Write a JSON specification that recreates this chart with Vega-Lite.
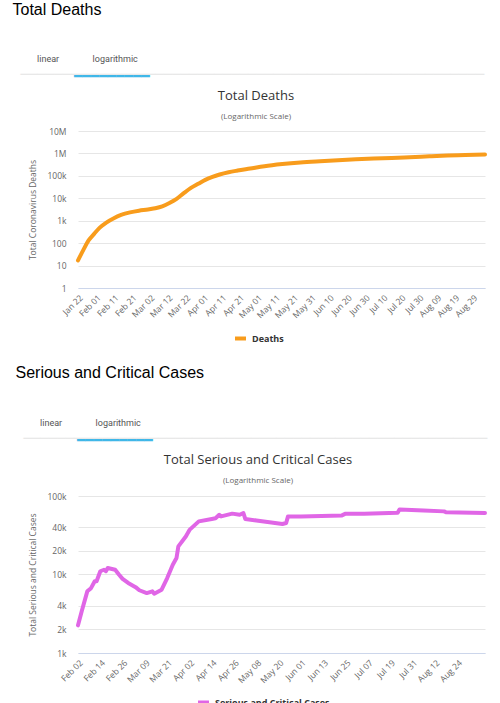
{
  "$schema": "https://vega.github.io/schema/vega-lite/v6.json",
  "background": "white",
  "padding": {"left": 12, "top": 2, "right": 0, "bottom": 0},
  "spacing": 18,
  "config": {
    "view": {"stroke": null},
    "font": "Open Sans",
    "axis": {
      "labelColor": "#666666",
      "labelFont": "Open Sans",
      "labelFontSize": 8.5,
      "titleColor": "#666666",
      "titleFont": "Open Sans",
      "titleFontSize": 8.5,
      "titleFontWeight": "normal",
      "gridColor": "#e6e6e6",
      "ticks": false,
      "tickSize": 0
    },
    "legend": {
      "orient": "none",
      "title": null,
      "direction": "horizontal",
      "labelFont": "Open Sans",
      "labelFontSize": 9,
      "labelFontWeight": "bold",
      "labelColor": "#333333",
      "symbolType": "stroke",
      "symbolStrokeWidth": 4,
      "symbolSize": 120
    }
  },
  "vconcat": [
    {
      "title": {
        "text": "Total Deaths",
        "subtitle": "\u200b\u00a0\u00a0\u00a0\u00a0\u00a0\u00a0\u00a0\u00a0\u00a0\u00a0\u00a0linear\u00a0\u00a0\u00a0\u00a0\u00a0\u00a0\u00a0\u00a0\u00a0\u00a0\u00a0\u00a0\u00a0\u00a0\u00a0logarithmic",
        "anchor": "start",
        "frame": "group",
        "dx": -65.5,
        "font": "Liberation Sans",
        "fontSize": 16,
        "fontWeight": "normal",
        "color": "#000000",
        "subtitleFont": "Roboto",
        "subtitleFontSize": 9,
        "subtitleColor": "#555555",
        "subtitlePadding": 37,
        "offset": 4
      },
      "vconcat": [
        {
          "title": {
            "text": "\u200b\u00a0\u00a0\u00a0\u00a0\u00a0\u00a0\u00a0\u00a0\u00a0\u00a0\u00a0\u00a0\u2501\u2501\u2501\u2501\u2501\u2501\u2501\u2501\u2501",
            "subtitle": "\u2500\u2500\u2500\u2500\u2500\u2500\u2500\u2500\u2500\u2500\u2500\u2500\u2500\u2500\u2500\u2500\u2500\u2500\u2500\u2500\u2500\u2500\u2500\u2500\u2500\u2500\u2500\u2500\u2500\u2500\u2500\u2500\u2500\u2500\u2500\u2500\u2500\u2500\u2500\u2500\u2500\u2500\u2500\u2500\u2500\u2500\u2500\u2500\u2500\u2500\u2500\u2500\u2500\u2500\u2500",
            "anchor": "start",
            "frame": "group",
            "dx": -57.5,
            "font": "DejaVu Sans",
            "fontSize": 14,
            "fontWeight": "normal",
            "color": "#3fb7e8",
            "subtitleFont": "DejaVu Sans",
            "subtitleFontSize": 14,
            "subtitleColor": "#e8e8e8",
            "subtitlePadding": -16,
            "offset": 4
          },
          "vconcat": [
            {
              "title": {
                "text": "Total Deaths",
                "subtitle": "(Logarithmic Scale)",
                "anchor": "middle",
                "frame": "bounds",
                "dx": -5,
                "font": "Open Sans",
                "fontSize": 13,
                "fontWeight": "normal",
                "color": "#333333",
                "subtitleFont": "Open Sans",
                "subtitleFontSize": 8,
                "subtitleColor": "#666666",
                "subtitlePadding": 10,
                "offset": 6
              },
              "width": 407,
              "height": 157,
              "data": {
                "values": [
                  {"date": "2020-01-22", "deaths": 17},
                  {"date": "2020-01-25", "deaths": 50},
                  {"date": "2020-01-28", "deaths": 135},
                  {"date": "2020-01-31", "deaths": 260},
                  {"date": "2020-02-03", "deaths": 480},
                  {"date": "2020-02-07", "deaths": 850},
                  {"date": "2020-02-11", "deaths": 1300},
                  {"date": "2020-02-15", "deaths": 1800},
                  {"date": "2020-02-20", "deaths": 2350},
                  {"date": "2020-02-25", "deaths": 2800},
                  {"date": "2020-03-01", "deaths": 3150},
                  {"date": "2020-03-05", "deaths": 3600},
                  {"date": "2020-03-09", "deaths": 4400},
                  {"date": "2020-03-13", "deaths": 6200},
                  {"date": "2020-03-17", "deaths": 9500},
                  {"date": "2020-03-21", "deaths": 17000},
                  {"date": "2020-03-25", "deaths": 29000},
                  {"date": "2020-03-29", "deaths": 44000},
                  {"date": "2020-04-02", "deaths": 66000},
                  {"date": "2020-04-06", "deaths": 90000},
                  {"date": "2020-04-10", "deaths": 115000},
                  {"date": "2020-04-15", "deaths": 145000},
                  {"date": "2020-04-20", "deaths": 172000},
                  {"date": "2020-04-27", "deaths": 212000},
                  {"date": "2020-05-05", "deaths": 270000},
                  {"date": "2020-05-15", "deaths": 335000},
                  {"date": "2020-05-25", "deaths": 395000},
                  {"date": "2020-06-05", "deaths": 450000},
                  {"date": "2020-06-15", "deaths": 500000},
                  {"date": "2020-06-25", "deaths": 545000},
                  {"date": "2020-07-05", "deaths": 590000},
                  {"date": "2020-07-15", "deaths": 630000},
                  {"date": "2020-07-25", "deaths": 680000},
                  {"date": "2020-08-05", "deaths": 745000},
                  {"date": "2020-08-15", "deaths": 800000},
                  {"date": "2020-08-25", "deaths": 850000},
                  {"date": "2020-09-05", "deaths": 905000}
                ]
              },
              "mark": {"type": "line", "strokeWidth": 4, "interpolate": "monotone", "strokeCap": "round"},
              "encoding": {
                "x": {
                  "field": "date",
                  "type": "temporal",
                  "scale": {
                    "type": "utc",
                    "nice": false,
                    "domain": [
                      {"year": 2020, "month": 1, "date": 22, "utc": true},
                      {"year": 2020, "month": 9, "date": 5, "utc": true}
                    ]
                  },
                  "axis": {
                    "title": null,
                    "grid": false,
                    "format": "%b %d",
                    "labelAngle": -45,
                    "labelPadding": 5,
                    "labelFlush": false,
                    "labelOverlap": false,
                    "domainColor": "#ccd6eb",
                    "values": [
                      {"year": 2020, "month": 1, "date": 22, "utc": true},
                      {"year": 2020, "month": 2, "date": 1, "utc": true},
                      {"year": 2020, "month": 2, "date": 11, "utc": true},
                      {"year": 2020, "month": 2, "date": 21, "utc": true},
                      {"year": 2020, "month": 3, "date": 2, "utc": true},
                      {"year": 2020, "month": 3, "date": 12, "utc": true},
                      {"year": 2020, "month": 3, "date": 22, "utc": true},
                      {"year": 2020, "month": 4, "date": 1, "utc": true},
                      {"year": 2020, "month": 4, "date": 11, "utc": true},
                      {"year": 2020, "month": 4, "date": 21, "utc": true},
                      {"year": 2020, "month": 5, "date": 1, "utc": true},
                      {"year": 2020, "month": 5, "date": 11, "utc": true},
                      {"year": 2020, "month": 5, "date": 21, "utc": true},
                      {"year": 2020, "month": 5, "date": 31, "utc": true},
                      {"year": 2020, "month": 6, "date": 10, "utc": true},
                      {"year": 2020, "month": 6, "date": 20, "utc": true},
                      {"year": 2020, "month": 6, "date": 30, "utc": true},
                      {"year": 2020, "month": 7, "date": 10, "utc": true},
                      {"year": 2020, "month": 7, "date": 20, "utc": true},
                      {"year": 2020, "month": 7, "date": 30, "utc": true},
                      {"year": 2020, "month": 8, "date": 9, "utc": true},
                      {"year": 2020, "month": 8, "date": 19, "utc": true},
                      {"year": 2020, "month": 8, "date": 29, "utc": true}
                    ]
                  }
                },
                "y": {
                  "field": "deaths",
                  "type": "quantitative",
                  "scale": {"type": "log", "domain": [1, 10000000]},
                  "axis": {
                    "title": "Total Coronavirus Deaths",
                    "titlePadding": 9,
                    "labelPadding": 12,
                    "domain": false,
                    "values": [1, 10, 100, 1000, 10000, 100000, 1000000, 10000000],
                    "labelExpr": "datum.value >= 1000000 ? (datum.value / 1000000) + 'M' : datum.value >= 1000 ? (datum.value / 1000) + 'k' : '' + datum.value"
                  }
                },
                "color": {
                  "datum": "Deaths",
                  "scale": {"domain": ["Deaths"], "range": ["#f89c1c"]},
                  "legend": {"legendX": 155, "legendY": 200}
                }
              }
            }
          ]
        }
      ]
    },
    {
      "title": {
        "text": "Serious and Critical Cases",
        "subtitle": "\u200b\u00a0\u00a0\u00a0\u00a0\u00a0\u00a0\u00a0\u00a0\u00a0\u00a0\u00a0linear\u00a0\u00a0\u00a0\u00a0\u00a0\u00a0\u00a0\u00a0\u00a0\u00a0\u00a0\u00a0\u00a0\u00a0\u00a0logarithmic",
        "anchor": "start",
        "frame": "group",
        "dx": -62.5,
        "font": "Liberation Sans",
        "fontSize": 16,
        "fontWeight": "normal",
        "color": "#000000",
        "subtitleFont": "Roboto",
        "subtitleFontSize": 9,
        "subtitleColor": "#555555",
        "subtitlePadding": 38,
        "offset": 4
      },
      "vconcat": [
        {
          "title": {
            "text": "\u200b\u00a0\u00a0\u00a0\u00a0\u00a0\u00a0\u00a0\u00a0\u00a0\u00a0\u00a0\u00a0\u2501\u2501\u2501\u2501\u2501\u2501\u2501\u2501\u2501",
            "subtitle": "\u2500\u2500\u2500\u2500\u2500\u2500\u2500\u2500\u2500\u2500\u2500\u2500\u2500\u2500\u2500\u2500\u2500\u2500\u2500\u2500\u2500\u2500\u2500\u2500\u2500\u2500\u2500\u2500\u2500\u2500\u2500\u2500\u2500\u2500\u2500\u2500\u2500\u2500\u2500\u2500\u2500\u2500\u2500\u2500\u2500\u2500\u2500\u2500\u2500\u2500\u2500\u2500\u2500\u2500\u2500",
            "anchor": "start",
            "frame": "group",
            "dx": -54.5,
            "font": "DejaVu Sans",
            "fontSize": 14,
            "fontWeight": "normal",
            "color": "#3fb7e8",
            "subtitleFont": "DejaVu Sans",
            "subtitleFontSize": 14,
            "subtitleColor": "#e8e8e8",
            "subtitlePadding": -16,
            "offset": 4
          },
          "vconcat": [
            {
              "title": {
                "text": "Total Serious and Critical Cases",
                "subtitle": "(Logarithmic Scale)",
                "anchor": "middle",
                "frame": "bounds",
                "font": "Open Sans",
                "fontSize": 13,
                "fontWeight": "normal",
                "color": "#333333",
                "subtitleFont": "Open Sans",
                "subtitleFontSize": 8,
                "subtitleColor": "#666666",
                "subtitlePadding": 10,
                "offset": 7
              },
              "width": 407,
              "height": 157,
              "data": {
                "values": [
                  {"date": "2020-02-02", "cases": 2250},
                  {"date": "2020-02-04", "cases": 3400},
                  {"date": "2020-02-07", "cases": 6100},
                  {"date": "2020-02-09", "cases": 6700},
                  {"date": "2020-02-11", "cases": 8200},
                  {"date": "2020-02-12", "cases": 8200},
                  {"date": "2020-02-14", "cases": 11000},
                  {"date": "2020-02-16", "cases": 11500},
                  {"date": "2020-02-17", "cases": 11000},
                  {"date": "2020-02-18", "cases": 12100},
                  {"date": "2020-02-22", "cases": 11500},
                  {"date": "2020-02-24", "cases": 10000},
                  {"date": "2020-02-26", "cases": 8800},
                  {"date": "2020-02-29", "cases": 7800},
                  {"date": "2020-03-04", "cases": 6900},
                  {"date": "2020-03-06", "cases": 6300},
                  {"date": "2020-03-10", "cases": 5800},
                  {"date": "2020-03-13", "cases": 6100},
                  {"date": "2020-03-14", "cases": 5700},
                  {"date": "2020-03-18", "cases": 6400},
                  {"date": "2020-03-21", "cases": 9000},
                  {"date": "2020-03-24", "cases": 13300},
                  {"date": "2020-03-26", "cases": 16200},
                  {"date": "2020-03-27", "cases": 22800},
                  {"date": "2020-03-31", "cases": 30500},
                  {"date": "2020-04-02", "cases": 37000},
                  {"date": "2020-04-07", "cases": 47500},
                  {"date": "2020-04-14", "cases": 51000},
                  {"date": "2020-04-16", "cases": 52000},
                  {"date": "2020-04-18", "cases": 57600},
                  {"date": "2020-04-19", "cases": 55000},
                  {"date": "2020-04-25", "cases": 59600},
                  {"date": "2020-04-29", "cases": 57600},
                  {"date": "2020-05-01", "cases": 60700},
                  {"date": "2020-05-02", "cases": 51000},
                  {"date": "2020-05-08", "cases": 48800},
                  {"date": "2020-05-18", "cases": 45300},
                  {"date": "2020-05-22", "cases": 44000},
                  {"date": "2020-05-24", "cases": 45300},
                  {"date": "2020-05-25", "cases": 55000},
                  {"date": "2020-06-01", "cases": 55000},
                  {"date": "2020-06-23", "cases": 56600},
                  {"date": "2020-06-25", "cases": 59600},
                  {"date": "2020-07-05", "cases": 59600},
                  {"date": "2020-07-23", "cases": 61300},
                  {"date": "2020-07-24", "cases": 67400},
                  {"date": "2020-08-06", "cases": 65500},
                  {"date": "2020-08-17", "cases": 63700},
                  {"date": "2020-08-18", "cases": 62000},
                  {"date": "2020-09-08", "cases": 60700}
                ]
              },
              "mark": {"type": "line", "strokeWidth": 4, "strokeCap": "round", "strokeJoin": "round"},
              "encoding": {
                "x": {
                  "field": "date",
                  "type": "temporal",
                  "scale": {
                    "type": "utc",
                    "nice": false,
                    "domain": [
                      {"year": 2020, "month": 2, "date": 2, "utc": true},
                      {"year": 2020, "month": 9, "date": 8, "utc": true}
                    ]
                  },
                  "axis": {
                    "title": null,
                    "grid": false,
                    "format": "%b %d",
                    "labelAngle": -45,
                    "labelPadding": 5,
                    "labelFlush": false,
                    "labelOverlap": false,
                    "domainColor": "#ccd6eb",
                    "values": [
                      {"year": 2020, "month": 2, "date": 2, "utc": true},
                      {"year": 2020, "month": 2, "date": 14, "utc": true},
                      {"year": 2020, "month": 2, "date": 26, "utc": true},
                      {"year": 2020, "month": 3, "date": 9, "utc": true},
                      {"year": 2020, "month": 3, "date": 21, "utc": true},
                      {"year": 2020, "month": 4, "date": 2, "utc": true},
                      {"year": 2020, "month": 4, "date": 14, "utc": true},
                      {"year": 2020, "month": 4, "date": 26, "utc": true},
                      {"year": 2020, "month": 5, "date": 8, "utc": true},
                      {"year": 2020, "month": 5, "date": 20, "utc": true},
                      {"year": 2020, "month": 6, "date": 1, "utc": true},
                      {"year": 2020, "month": 6, "date": 13, "utc": true},
                      {"year": 2020, "month": 6, "date": 25, "utc": true},
                      {"year": 2020, "month": 7, "date": 7, "utc": true},
                      {"year": 2020, "month": 7, "date": 19, "utc": true},
                      {"year": 2020, "month": 7, "date": 31, "utc": true},
                      {"year": 2020, "month": 8, "date": 12, "utc": true},
                      {"year": 2020, "month": 8, "date": 24, "utc": true}
                    ]
                  }
                },
                "y": {
                  "field": "cases",
                  "type": "quantitative",
                  "scale": {"type": "log", "domain": [1000, 100000]},
                  "axis": {
                    "title": "Total Serious and Critical Cases",
                    "titlePadding": 9,
                    "labelPadding": 12,
                    "domain": false,
                    "values": [1000, 2000, 4000, 10000, 20000, 40000, 100000],
                    "labelExpr": "(datum.value / 1000) + 'k'"
                  }
                },
                "color": {
                  "datum": "Serious and Critical Cases",
                  "scale": {"domain": ["Serious and Critical Cases"], "range": ["#e066e6"]},
                  "legend": {"legendX": 118, "legendY": 199}
                }
              }
            }
          ]
        }
      ]
    }
  ],
  "resolve": {"scale": {"color": "independent"}, "legend": {"color": "independent"}}
}
